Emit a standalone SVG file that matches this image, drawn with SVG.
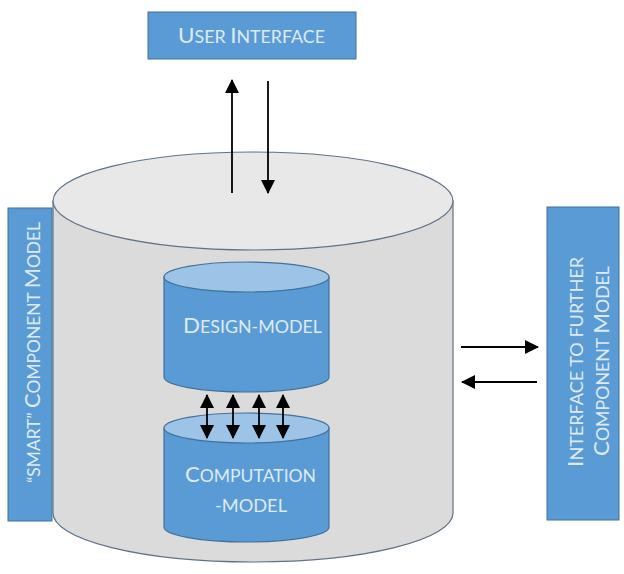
<svg xmlns="http://www.w3.org/2000/svg" width="624" height="574" viewBox="0 0 624 574">
  <defs>
    <style>
      .box { fill: #5b9bd5; stroke: #41719c; stroke-width: 1; }
      .cyl { fill: #5b9bd5; stroke: #41719c; stroke-width: 1.2; }
      .cyltop { fill: #9dc3e6; stroke: #41719c; stroke-width: 1.2; }
      .lbl { font-family: Lato, "Open Sans", sans-serif; fill: #ddeaf6; text-anchor: middle; }
      .big { font-size: 22px; }
      .sm { font-size: 17.5px; }
      .arrow { stroke: #000; stroke-width: 1.8; fill: none; }
    </style>
    <marker id="ah" viewBox="0 0 14 14" refX="13" refY="7" markerWidth="14" markerHeight="14" orient="auto-start-reverse" markerUnits="userSpaceOnUse">
      <path d="M0,0 L14,7 L0,14 Z" fill="#000"/>
    </marker>
  </defs>
  <rect width="624" height="574" fill="#ffffff"/>

  <!-- outer "smart" component cylinder -->
  <g id="outer-cylinder">
    <path d="M53,201 L53,513 A200,49 0 0 0 453,513 L453,201 Z" fill="#dcdbdb" stroke="#5f7387" stroke-width="1.2"/>
    <ellipse cx="253" cy="201" rx="200" ry="49" fill="#e8e8e8" stroke="#5f7387" stroke-width="1.2"/>
  </g>

  <!-- left label bar -->
  <g id="smart-component-model">
    <rect class="box" x="8" y="208" width="44" height="313"/>
    <text class="lbl" transform="translate(40,352.5) rotate(-90)" textLength="261" lengthAdjust="spacingAndGlyphs"><tspan class="sm">“SMART” </tspan><tspan class="big">C</tspan><tspan class="sm">OMPONENT </tspan><tspan class="big">M</tspan><tspan class="sm">ODEL</tspan></text>
  </g>

  <!-- right label bar -->
  <g id="further-interface">
    <rect class="box" x="547" y="207" width="72" height="313"/>
    <text class="lbl" transform="translate(583,362) rotate(-90)" textLength="210" lengthAdjust="spacingAndGlyphs"><tspan class="big">I</tspan><tspan class="sm">NTERFACE TO FURTHER</tspan></text>
    <text class="lbl" transform="translate(609,361) rotate(-90)" textLength="190" lengthAdjust="spacingAndGlyphs"><tspan class="big">C</tspan><tspan class="sm">OMPONENT </tspan><tspan class="big">M</tspan><tspan class="sm">ODEL</tspan></text>
  </g>

  <!-- user interface box -->
  <g id="user-interface">
    <rect class="box" x="148" y="12" width="208" height="47"/>
    <text class="lbl" x="251.5" y="43" textLength="147" lengthAdjust="spacingAndGlyphs"><tspan class="big">U</tspan><tspan class="sm">SER </tspan><tspan class="big">I</tspan><tspan class="sm">NTERFACE</tspan></text>
  </g>

  <!-- design model cylinder -->
  <g id="design-model">
    <path class="cyl" d="M164,277 L164,377 A82.5,15 0 0 0 329,377 L329,277 Z"/>
    <ellipse class="cyltop" cx="246.5" cy="277" rx="82.5" ry="15"/>
    <text class="lbl" x="252.5" y="333" textLength="139" lengthAdjust="spacingAndGlyphs"><tspan class="big">D</tspan><tspan class="sm">ESIGN-MODEL</tspan></text>
  </g>

  <!-- computation model cylinder -->
  <g id="computation-model">
    <path class="cyl" d="M164,428 L164,527 A82.5,15 0 0 0 329,527 L329,428 Z"/>
    <ellipse class="cyltop" cx="246.5" cy="428" rx="82.5" ry="15"/>
    <text class="lbl" x="250.5" y="482" textLength="131" lengthAdjust="spacingAndGlyphs"><tspan class="big">C</tspan><tspan class="sm">OMPUTATION</tspan></text>
    <text class="lbl" x="251" y="512" textLength="72" lengthAdjust="spacingAndGlyphs"><tspan class="sm">-MODEL</tspan></text>
  </g>

  <!-- connectors -->
  <g id="connectors">
    <line class="arrow" x1="232" y1="193" x2="232" y2="80" marker-end="url(#ah)"/>
    <line class="arrow" x1="268" y1="81" x2="268" y2="193" marker-end="url(#ah)"/>
    <line class="arrow" x1="207" y1="395" x2="207" y2="438" marker-start="url(#ah)" marker-end="url(#ah)"/>
    <line class="arrow" x1="233" y1="395" x2="233" y2="438" marker-start="url(#ah)" marker-end="url(#ah)"/>
    <line class="arrow" x1="259" y1="395" x2="259" y2="438" marker-start="url(#ah)" marker-end="url(#ah)"/>
    <line class="arrow" x1="283" y1="395" x2="283" y2="438" marker-start="url(#ah)" marker-end="url(#ah)"/>
    <line class="arrow" x1="461" y1="347" x2="538" y2="347" marker-end="url(#ah)"/>
    <line class="arrow" x1="537" y1="382" x2="462" y2="382" marker-end="url(#ah)"/>
  </g>
</svg>
